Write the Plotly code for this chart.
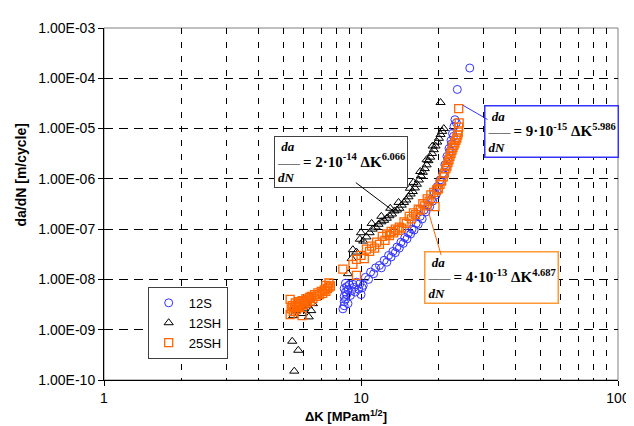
import plotly.graph_objects as go

# ---------------- data ----------------
k_12s = [8.5, 8.6, 8.6, 8.7, 8.6, 8.8, 8.7, 8.9, 8.6, 8.8, 9.0, 8.7, 8.9, 9.2, 9.4, 9.6, 9.8, 10.0,
         10.2, 9.5, 9.9, 9.1, 10.1, 9.3,
         10.4, 10.7, 10.9, 11.2, 11.4, 11.8, 12.0, 12.3, 12.6, 12.8, 13.1, 13.3, 13.6, 13.8, 14.1,
         14.3, 14.6, 14.8, 15.1, 15.3, 15.6, 15.8, 16.1, 16.4, 16.7, 17.0, 17.3, 17.6, 17.9, 18.2,
         18.5, 18.8, 19.0, 19.3, 19.6, 19.8, 20.1, 20.3, 20.6, 20.8, 21.0, 21.2, 21.4, 21.6, 21.8,
         22.0, 22.2, 22.4, 22.5, 22.7, 22.9, 23.0, 23.2, 23.5, 23.7, 26.5]
dadn_12s = [2.6e-9, 3.0e-9, 3.6e-9, 4.0e-9, 4.6e-9, 5.0e-9, 5.6e-9, 6.2e-9, 6.6e-9, 7.2e-9, 7.8e-9,
            8.4e-9, 3.3e-9, 6.0e-9, 7.0e-9, 8.8e-9, 6.4e-9, 5.0e-9, 7.6e-9, 5.6e-9, 8.2e-9, 4.8e-9,
            6.8e-9, 8.0e-9,
            1.1e-8, 1.0e-8, 1.4e-8, 1.3e-8, 1.7e-8, 1.9e-8, 1.7e-8, 2.4e-8, 2.2e-8, 3.0e-8, 2.8e-8,
            3.6e-8, 3.4e-8, 4.4e-8, 4.2e-8, 5.5e-8, 5.2e-8, 6.8e-8, 6.4e-8, 8.4e-8, 8.0e-8, 1.0e-7,
            9.6e-8, 1.3e-7, 1.25e-7, 1.8e-7, 1.6e-7, 2.4e-7, 2.2e-7, 3.0e-7, 2.8e-7, 3.9e-7, 3.6e-7,
            5.2e-7, 4.8e-7, 7.0e-7, 6.4e-7, 9.5e-7, 9.0e-7, 1.3e-6, 1.2e-6, 1.9e-6, 1.7e-6, 2.8e-6,
            2.5e-6, 4.0e-6, 3.6e-6, 5.8e-6, 5.0e-6, 8.0e-6, 7.0e-6, 1.1e-5, 1.5e-5, 1.3e-5, 6.0e-5,
            1.6e-4]

k_12sh = [5.5, 5.4, 5.7,
          5.45, 5.6, 5.8, 6.0, 6.26, 6.5, 6.2, 5.5, 5.9, 6.4,
          8.9, 9.2, 9.3, 9.6, 9.9, 10.2, 10.5, 10.8, 11.1, 11.4, 11.7, 12.0, 12.3, 12.6, 12.9, 13.2,
          13.5, 13.8, 14.1, 14.4, 14.7, 15.0, 15.3, 15.6, 15.9, 16.2, 16.5, 16.8, 17.1, 17.4, 17.7,
          18.0, 18.3, 18.6, 18.9, 19.2, 19.5, 19.8, 20.1, 20.4, 20.7, 21.0, 20.4,
          13.0, 14.0, 15.5, 16.0, 17.0, 18.0, 19.0, 12.0, 11.0, 10.0]
dadn_12sh = [1.5e-10, 5.9e-10, 3.9e-10,
             1.9e-9, 2.4e-9, 2.9e-9, 2.6e-9, 1.8e-9, 3.3e-9, 3.0e-9, 2.6e-9, 2.1e-9, 2.4e-9,
             1.3e-8, 2.6e-8, 3.9e-8, 3.5e-8, 6.3e-8, 5.8e-8, 7.0e-8, 8.5e-8, 1.0e-7, 1.1e-7, 1.25e-7,
             1.4e-7, 1.5e-7, 1.65e-7, 1.85e-7, 2.0e-7, 2.3e-7, 2.4e-7, 2.6e-7, 3.0e-7, 3.4e-7, 3.8e-7,
             4.4e-7, 5.0e-7, 5.6e-7, 6.6e-7, 7.8e-7, 9.5e-7, 1.15e-6, 1.35e-6, 1.6e-6, 1.9e-6, 2.3e-6,
             2.7e-6, 3.2e-6, 3.8e-6, 4.5e-6, 5.4e-6, 6.4e-6, 7.6e-6, 8.8e-6, 1.0e-5, 3.3e-5,
             2.6e-7, 3.4e-7, 6.5e-7, 8.5e-7, 1.4e-6, 2.4e-6, 4.5e-6, 1.8e-7, 1.3e-7, 8.5e-8]

k_25sh = [5.3, 5.35, 5.4, 5.45, 5.5, 5.55, 5.6, 5.65, 5.7, 5.75, 5.8, 5.9, 5.95, 6.0, 6.1, 6.15,
          6.2, 6.3, 6.35, 6.4, 6.5, 6.6, 6.7, 6.8, 6.9, 7.0, 7.1, 7.2, 7.3, 7.4, 7.5, 7.6,
          5.3, 5.9, 7.5, 7.3,
          8.5, 9.6, 9.3, 9.6, 10.0, 10.3, 10.5, 10.8, 11.0, 11.3, 11.5, 11.8, 12.1, 12.4, 12.6, 12.9,
          13.1, 13.4, 13.6, 13.9, 14.1, 14.4, 14.7, 15.0, 15.4, 15.7, 16.0, 16.3, 16.7, 17.0, 17.4,
          17.7, 18.1, 18.4, 18.7, 19.2, 19.4, 19.7, 20.0, 20.3, 20.6, 20.9, 21.1, 21.4, 21.6, 21.8,
          22.0, 22.2, 22.4, 22.6, 22.8, 23.0, 23.2, 23.4, 23.6, 23.8, 23.9, 24.0, 24.1, 24.0]
dadn_25sh = [2.0e-9, 2.6e-9, 3.0e-9, 2.3e-9, 2.8e-9, 3.4e-9, 2.5e-9, 3.1e-9, 3.6e-9, 2.9e-9, 3.3e-9,
             3.8e-9, 3.1e-9, 3.6e-9, 4.1e-9, 3.4e-9, 3.9e-9, 4.4e-9, 3.7e-9, 4.6e-9, 4.2e-9, 5.0e-9,
             4.6e-9, 5.4e-9, 5.0e-9, 5.8e-9, 5.3e-9, 6.2e-9, 5.8e-9, 6.6e-9, 7.0e-9, 7.4e-9,
             4.0e-9, 1.9e-9, 8.5e-9, 7.6e-9,
             1.6e-8, 1.2e-8, 2.0e-8, 2.5e-8, 3.0e-8, 2.6e-8, 4.0e-8, 3.6e-8, 4.6e-8, 4.2e-8, 5.5e-8,
             5.0e-8, 7.2e-8, 6.0e-8, 8.0e-8, 7.4e-8, 9.0e-8, 8.4e-8, 1.0e-7, 9.4e-8, 1.1e-7, 1.05e-7,
             1.4e-7, 1.3e-7, 1.8e-7, 1.6e-7, 2.1e-7, 1.95e-7, 2.5e-7, 2.4e-7, 3.2e-7, 2.9e-7, 4.0e-7,
             3.6e-7, 4.8e-7, 5.4e-7, 2.8e-7, 6.0e-7, 6.3e-7, 7.8e-7, 9.0e-7, 1.1e-6, 1.3e-6, 1.6e-6,
             1.8e-6, 2.1e-6, 2.4e-6, 2.8e-6, 3.2e-6, 3.7e-6, 4.2e-6, 4.7e-6, 5.2e-6, 5.8e-6, 6.5e-6,
             7.5e-6, 8.5e-6, 1.07e-5, 1.3e-5, 2.5e-5]

y_tick_vals = [1e-10, 1e-9, 1e-8, 1e-7, 1e-6, 1e-5, 1e-4, 1e-3]
y_tick_text = ["1.00E-10", "1.00E-09", "1.00E-08", "1.00E-07", "1.00E-06", "1.00E-05",
               "1.00E-04", "1.00E-03"]
x_tick_vals = [1, 10, 100]
x_tick_text = ["1", "10", "100"]
x_minor_vals = [2, 3, 4, 5, 6, 7, 8, 9, 20, 30, 40, 50, 60, 70, 80, 90]

# fitted equations shown in the boxes: (coefficient, exponent of 10, exponent of dK)
eq_12sh = ("2", "-14", "6.066")
eq_12s = ("9", "-15", "5.986")
eq_25sh = ("4", "-13", "4.687")

x_title = "<b>ΔK [MPam<sup>1/2</sup>]</b>"
y_title = "<b>da/dN [m/cycle]</b>"

BLUE = "#3333FF"
BLACK = "#000000"
ORANGE = "#FF6600"
SANS = "Liberation Sans, Arial, sans-serif"
SERIF = "Liberation Serif, Times New Roman, serif"

fig = go.Figure()
fig.add_trace(go.Scatter(x=k_12s, y=dadn_12s, mode="markers", name="12S",
                         marker=dict(symbol="circle-open", size=8, color=BLUE,
                                     line=dict(width=1, color=BLUE))))
fig.add_trace(go.Scatter(x=k_12sh, y=dadn_12sh, mode="markers", name="12SH",
                         marker=dict(symbol="triangle-up-open", size=8, color=BLACK,
                                     line=dict(width=1, color=BLACK))))
fig.add_trace(go.Scatter(x=k_25sh, y=dadn_25sh, mode="markers", name="25SH",
                         marker=dict(symbol="square-open", size=8, color=ORANGE,
                                     line=dict(width=1.3, color=ORANGE))))


def eq_text(eq):
    c, e10, ek = eq
    return ("<b><i><span style='font-size:13px'>&nbsp;da</span></i></b><br>"
            "<span style='font-size:11px'><b>——</b></span> "
            "<b><span style='font-size:15px'>= " + c + "·10<sup>" + e10 +
            "</sup> ΔK<sup>" + ek + "</sup></span></b><br>"
            "<b><i><span style='font-size:13px'>dN</span></i></b>")


eq_font = dict(family=SERIF, size=12, color="black")
annotations = [
    # equation boxes
    dict(x=0.9218, y=-5.673, xref="x", yref="y", text=eq_text(eq_12sh), showarrow=False,
         align="left", font=eq_font, bordercolor="#404040", borderwidth=1, borderpad=2,
         bgcolor="white"),
    dict(x=1.740, y=-5.051, xref="x", yref="y", text=eq_text(eq_12s), showarrow=False,
         align="left", font=eq_font, bordercolor=BLUE, borderwidth=1.5, borderpad=2,
         bgcolor="white"),
    dict(x=1.508, y=-7.96, xref="x", yref="y", text=eq_text(eq_25sh), showarrow=False,
         align="left", font=eq_font, bordercolor="#FF9933", borderwidth=1.5, borderpad=2,
         bgcolor="white"),
    # leader lines
    dict(x=1.1336, y=-6.669, xref="x", yref="y", text="", showarrow=True, arrowhead=0,
         arrowwidth=1, arrowcolor="black", ax=-41, ay=-31),
    dict(x=1.397, y=-4.538, xref="x", yref="y", text="", showarrow=True, arrowhead=0,
         arrowwidth=1, arrowcolor=BLUE, ax=26, ay=15),
    dict(x=1.263, y=-6.669, xref="x", yref="y", text="", showarrow=True, arrowhead=0,
         arrowwidth=1, arrowcolor=ORANGE, ax=13, ay=44),
    # axis titles
    dict(x=0.470, y=-0.101, xref="paper", yref="paper", text=x_title, showarrow=False,
         xanchor="center", yanchor="middle", font=dict(family=SANS, size=13, color="black")),
    dict(x=-0.162, y=0.583, xref="paper", yref="paper", text=y_title, showarrow=False,
         textangle=-90, xanchor="center", yanchor="middle",
         font=dict(family=SANS, size=14, color="black")),
]

fig.update_layout(
    width=634, height=426,
    margin=dict(l=96, r=13, t=17, b=54),
    paper_bgcolor="white", plot_bgcolor="white",
    font=dict(family=SANS, size=14, color="black"),
    showlegend=True,
    legend=dict(x=0.085, y=0.06, xanchor="left", yanchor="bottom",
                bordercolor="#404040", borderwidth=1, bgcolor="white",
                font=dict(family=SANS, size=13), itemwidth=30, tracegroupgap=0),
    annotations=annotations,
    shapes=[dict(type="rect", xref="paper", yref="paper", x0=0, y0=0, x1=1, y1=1,
                 line=dict(color="#808080", width=1), layer="below")],
)

fig.update_xaxes(
    type="log", range=[0, 2], tickmode="array", tickvals=x_tick_vals, ticktext=x_tick_text,
    ticks="outside", ticklen=5, tickcolor="black", showline=True, linecolor="black",
    linewidth=1, showgrid=True, gridcolor="black", gridwidth=1, griddash="6px,8px",
    zeroline=False, tickfont=dict(family=SANS, size=14),
    minor=dict(tickmode="array", tickvals=x_minor_vals, showgrid=True, gridcolor="black",
               gridwidth=1, griddash="6px,8px", ticks=""),
)
fig.update_yaxes(
    type="log", range=[-10, -3], tickmode="array", tickvals=y_tick_vals, ticktext=y_tick_text,
    ticks="outside", ticklen=5, tickcolor="black", showline=True, linecolor="black",
    linewidth=1, showgrid=True, gridcolor="black", gridwidth=1, griddash="9px,6px",
    zeroline=False, tickfont=dict(family=SANS, size=14),
)

fig.write_html("out.html")
